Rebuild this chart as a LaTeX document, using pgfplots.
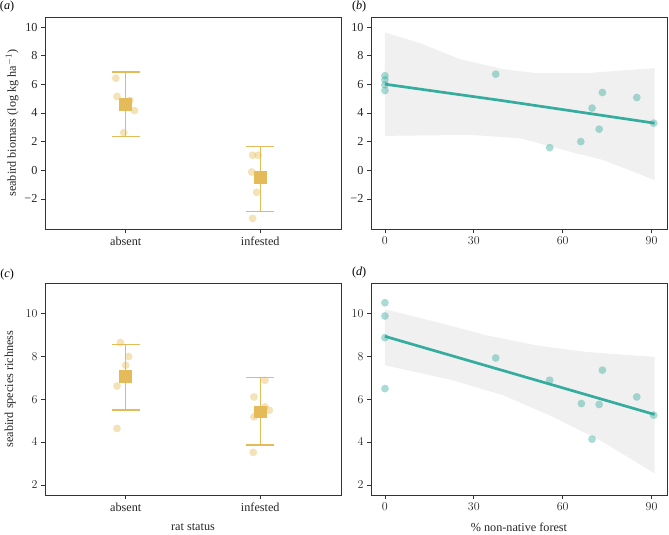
\documentclass[border=0pt]{standalone}
\usepackage{pgfplots}
\pgfplotsset{compat=1.18}
\usepackage{fontspec}
\setmainfont{Liberation Serif}
\definecolor{gold}{RGB}{229,186,88}
\definecolor{teal2}{RGB}{52,172,158}
\definecolor{band}{RGB}{240,240,240}
\definecolor{frame}{RGB}{51,51,51}
\tikzset{plab/.style={font=\fontsize{12.2}{14}\selectfont}}
\pgfplotsset{
  panel/.style={
    scale only axis, width=296pt, height=212pt,
    axis line style={frame, line width=0.9pt},
    tick style={frame, line width=0.8pt},
    xtick pos=bottom, ytick pos=left, tick align=outside,
    major tick length=4pt,
    tick label style={font=\fontsize{12.2}{14}\selectfont, text=black!85},
    label style={font=\fontsize{12.2}{14}\selectfont, text=black!85},
    clip=false,
  },
  bio/.style={ymin=-4.1, ymax=10.7, ytick={-2,0,2,4,6,8,10},
    yticklabels={−2,0,2,4,6,8,10}},
  rich/.style={ymin=1.53, ymax=11.43, ytick={2,4,6,8,10}},
  cat/.style={xmin=-0.6, xmax=1.6, xtick={0,1}, xticklabels={absent,infested}},
  num/.style={xmin=-4.7, xmax=95.2, xtick={0,30,60,90}},
  pts/.style={only marks, mark=*, mark size=3.9pt, color=#1, mark options={fill=#1, fill opacity=0.42, draw opacity=0}},
  eb/.style={gold, line width=1.5pt},
}
\begin{document}
\begin{tikzpicture}
\path[use as bounding box] (0pt,0pt) rectangle (669pt,-535pt);
% (a)
\begin{axis}[panel, bio, cat, at={(45pt,-229pt)}, anchor=south west,
  ylabel={seabird biomass (log kg ha$^{-1}$)},
  ylabel style={at={(axis description cs:-0.111,0.5)}, anchor=center}]
\node[plab] at (axis description cs:-0.128,1.047) {(\textit{a})};
\addplot[pts=gold] coordinates {(-0.074,6.43)(-0.065,5.15)(0.030,4.87)(0.065,4.17)(-0.015,2.63)};
\addplot[pts=gold] coordinates {(0.943,1.05)(0.985,1.05)(0.936,-0.12)(1.022,-0.50)(0.973,-1.54)(0.943,-3.36)};
\addplot[eb] coordinates {(0,2.35)(0,6.85)};
\addplot[eb] coordinates {(-0.104,6.85)(0.104,6.85)};
\addplot[eb] coordinates {(-0.104,2.35)(0.104,2.35)};
\addplot[eb] coordinates {(1,-2.87)(1,1.65)};
\addplot[eb] coordinates {(0.896,1.65)(1.104,1.65)};
\addplot[eb] coordinates {(0.896,-2.87)(1.104,-2.87)};
\addplot[only marks, color=gold, mark=square*, mark size=6.4pt, mark options={fill=gold, draw opacity=0}] coordinates {(0,4.57)(1,-0.52)};
\end{axis}
% (b)
\begin{axis}[panel, bio, num, at={(371pt,-229pt)}, anchor=south west]
\node[plab] at (axis description cs:-0.04,1.047) {(\textit{b})};
\addplot[fill=band, draw=none] coordinates {(0,9.62)(11.8,8.88)(25.3,7.76)(39.9,7.06)(51.1,6.78)(68,6.78)(91,7.13)
  (91,-0.68)(73.6,0.72)(62.4,1.30)(45.5,2.24)(28.6,2.47)(0,2.40)} -- cycle;
\addplot[pts=teal2] coordinates {(0,6.60)(0,6.32)(0,5.97)(0,5.57)(37.4,6.71)(55.6,1.58)(66.1,2.00)(69.9,4.34)(72.3,2.87)(73.4,5.43)(85.0,5.08)(90.7,3.29)};
\addplot[teal2, line width=2.7pt] coordinates {(0,6.01)(40,4.85)(91,3.29)};
\end{axis}
% (c)
\begin{axis}[panel, rich, cat, at={(45pt,-495pt)}, anchor=south west,
  ylabel={seabird species richness}, xlabel={rat status},
  ylabel style={at={(axis description cs:-0.118,0.5)}, anchor=center},
  xlabel style={at={(axis description cs:0.5,-0.151)}, anchor=center}]
\node[plab] at (axis description cs:-0.128,1.038) {(\textit{c})};
\addplot[pts=gold] coordinates {(-0.040,8.65)(0.022,8.00)(0.0,7.59)(-0.065,6.62)(-0.065,4.64)};
\addplot[pts=gold] coordinates {(1.035,6.89)(0.953,6.11)(0.953,5.18)(1.035,5.65)(1.067,5.49)(0.948,3.52)};
\addplot[eb] coordinates {(0,5.49)(0,8.57)};
\addplot[eb] coordinates {(-0.104,8.57)(0.104,8.57)};
\addplot[eb] coordinates {(-0.104,5.49)(0.104,5.49)};
\addplot[eb] coordinates {(1,3.86)(1,7.02)};
\addplot[eb] coordinates {(0.896,7.02)(1.104,7.02)};
\addplot[eb] coordinates {(0.896,3.86)(1.104,3.86)};
\addplot[only marks, color=gold, mark=square*, mark size=6.4pt, mark options={fill=gold, draw opacity=0}] coordinates {(0,7.08)(1,5.41)};
\end{axis}
% (d)
\begin{axis}[panel, rich, num, at={(371pt,-495pt)}, anchor=south west,
  xlabel={\% non-native forest},
  xlabel style={at={(axis description cs:0.5,-0.151)}, anchor=center}]
\node[plab] at (axis description cs:-0.04,1.047) {(\textit{d})};
\addplot[fill=band, draw=none] coordinates {(0,10.2)(17.4,9.61)(34.2,8.99)(51.1,8.52)(68,8.21)(91,7.98)
  (91,2.54)(73.6,4.01)(56.7,5.18)(39.9,6.19)(22.8,6.89)(0,7.59)} -- cycle;
\addplot[pts=teal2] coordinates {(0,10.51)(0,9.89)(0,8.88)(0,6.50)(37.4,7.93)(55.6,6.89)(66.3,5.80)(69.9,4.14)(72.3,5.76)(73.4,7.36)(85.0,6.11)(90.7,5.26)};
\addplot[teal2, line width=2.7pt] coordinates {(0,8.94)(91,5.29)};
\end{axis}
\end{tikzpicture}
\end{document}
